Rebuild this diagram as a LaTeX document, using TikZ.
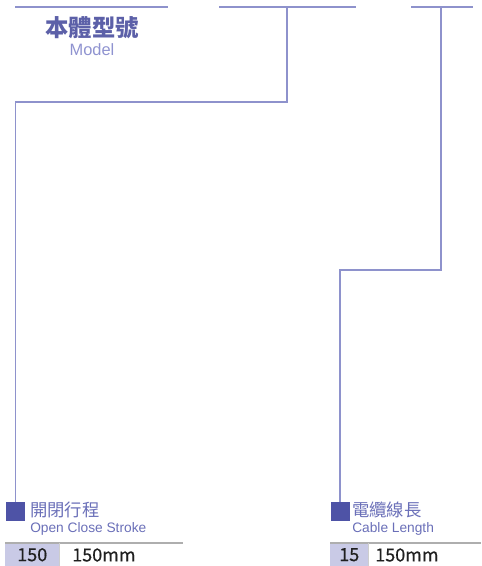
\documentclass[tikz,border=0pt]{standalone}
\usepackage{fontspec}
\setmainfont{Liberation Sans}
\newfontfamily\cjk{Noto Sans CJK TC}
\newfontfamily\cjknum{Noto Sans CJK TC}[FakeBold=0.5]
\usetikzlibrary{positioning}
\definecolor{linkblue}{HTML}{8E92CC}
\definecolor{tagblue}{HTML}{4E53A6}
\definecolor{headblue}{HTML}{5C60A8}
\definecolor{subblue}{HTML}{8F93D0}
\definecolor{labblue}{HTML}{6A6FB8}
\definecolor{cellfill}{HTML}{C9CAE6}
\definecolor{rulegray}{HTML}{AEAEAE}

\begin{document}
\begin{tikzpicture}[
  x=0.75pt, y=-0.75pt,
  link/.style={draw=linkblue, line width=1.3pt},
  rule/.style={draw=rulegray, line width=1.5pt},
  tag/.style={fill=tagblue, minimum size=14.25pt, inner sep=0pt},
  head/.style={text=headblue, font=\cjk\bfseries\fontsize{17.5}{20}\selectfont, inner sep=0pt},
  sub/.style={text=subblue, font=\fontsize{12.3}{14}\selectfont, inner sep=0pt},
  zh/.style={text=labblue, font=\cjk\fontsize{13}{15}\selectfont, inner sep=0pt, anchor=west},
  en/.style={text=labblue, font=\fontsize{10.3}{12}\selectfont, inner sep=0pt, anchor=west},
  cell/.style={fill=cellfill, minimum height=17.25pt, inner sep=0pt, anchor=north west,
    font=\cjknum\fontsize{13.5}{15}\selectfont, text=black!88},
  val/.style={font=\cjknum\fontsize{13.5}{15}\selectfont, text=black!88, inner sep=0pt, anchor=west}
]
\useasboundingbox (0,0) rectangle (481,566);

% top bars
\draw[link] (15,7) -- (168,7);
\draw[link] (219,7) -- (356,7);
\draw[link] (411,7) -- (473,7);
\coordinate (top1) at (287,7);
\coordinate (top2) at (441,7);

\node[head] (model) at (92,28) {本體型號};
\node[sub] (modelen) at (92,50) {Model};

% stroke
\node[tag] (t1) at (15.5,511.5) {};
\node[zh] (l1) at (30,510) {開閉行程};
\node[en] (e1) at (30,529) {Open Close Stroke};
\node[cell, minimum width=40.5pt] (n1) at (5,543) {150};
\node[val] (v1) at (72,555) {150mm};

% cable
\node[tag] (t2) at (340,511.5) {};
\node[zh] (l2) at (352,510) {電纜線長};
\node[en] (e2) at (352,529) {Cable Length};
\node[cell, minimum width=28.5pt] (n2) at (330,543) {15};
\node[val] (v2) at (375,555) {150mm};

\draw[rule] (n1.north west) -- ++(178,0);
\draw[rule] (n2.north west) -- ++(151,0);
\draw[draw=rulegray!60, line width=0.6pt] (n1.north east) -- (n1.south east);
\draw[draw=rulegray!60, line width=0.6pt] (n2.north east) -- (n2.south east);

\draw[link] (top1) -- ++(0,95) -| (t1.north);
\draw[link] (top2) -- ++(0,263) -| (t2.north);
\end{tikzpicture}
\end{document}
